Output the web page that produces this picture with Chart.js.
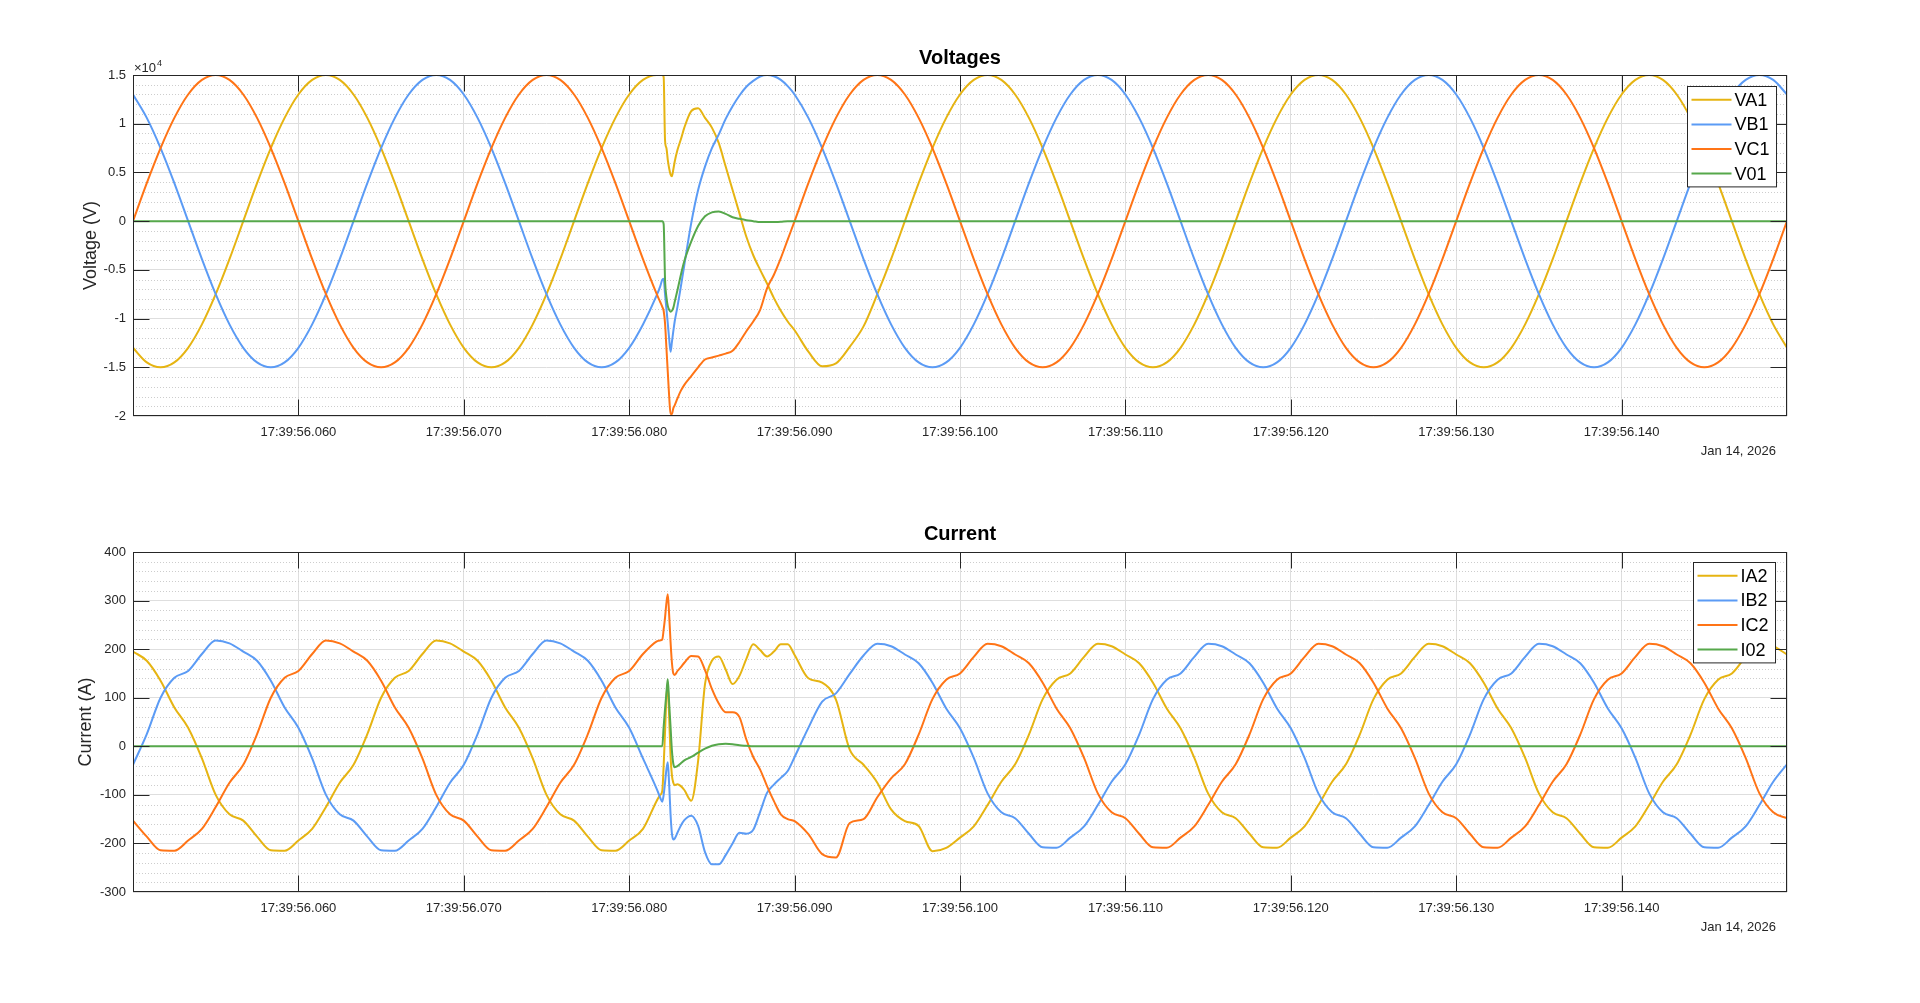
<!DOCTYPE html>
<html>
<head>
<meta charset="utf-8">
<script src="https://cdn.jsdelivr.net/npm/chart.js@4.4.1/dist/chart.umd.min.js"></script>
<style>
html,body{margin:0;padding:0;background:#fff;width:1920px;height:1003px;overflow:hidden}
canvas{position:absolute;left:0}
</style>
</head>
<body>
<canvas id="cV" width="1920" height="480" style="top:0"></canvas>
<canvas id="cI" width="1920" height="523" style="top:480px"></canvas>
<script>
// time in ms after 17:39:56.000 (Jan 14, 2026)
var t = [
  50, 50.833, 51.667, 52.5, 53.333, 54.167, 55, 55.833, 56.667, 57.5,
  58.333, 59.167, 60, 60.833, 61.667, 62.5, 63.333, 64.167, 65, 65.833,
  66.667, 67.5, 68.333, 69.167, 70, 70.833, 71.667, 72.5, 73.333, 74.167,
  75, 75.833, 76.667, 77.5, 78.333, 79.167, 80, 80.833,
  81.667, 81.875, 82, 82.083, 82.167, 82.25, 82.333, 82.417, 82.5, 82.583,
  82.667, 82.75, 82.917, 83.125, 83.333, 83.75, 84.167, 84.583, 85, 85.417,
  85.833, 86.25, 86.667, 87.083, 87.5, 87.917, 88.333, 88.75, 89.167, 89.583, 90,
  90.833, 91.667, 92.5, 93.333, 94.167, 95, 95.833, 96.667, 97.5, 98.333,
  99.167, 100, 100.833, 101.667, 102.5, 103.333, 104.167, 105, 105.833, 106.667,
  107.5, 108.333, 109.167, 110, 110.833, 111.667, 112.5, 113.333, 114.167, 115,
  115.833, 116.667, 117.5, 118.333, 119.167, 120, 120.833, 121.667, 122.5, 123.333,
  124.167, 125, 125.833, 126.667, 127.5, 128.333, 129.167, 130, 130.833, 131.667,
  132.5, 133.333, 134.167, 135, 135.833, 136.667, 137.5, 138.333, 139.167, 140,
  140.833, 141.667, 142.5, 143.333, 144.167, 145, 145.833, 146.667, 147.5, 148.333,
  149.167, 150
];

// voltages (V)
var VA1 = [
  -13000, -14500, -15000, -14500, -13000, -10600, -7500, -3900, 0, 3900,
  7500, 10600, 13000, 14500, 15000, 14500, 13000, 10600, 7500, 3900,
  0, -3900, -7500, -10600, -13000, -14500, -15000, -14500, -13000, -10600,
  -7500, -3900, 0, 3900, 7500, 10600, 13000, 14500,
  15000, 15000, 15000, 14800, 8300, 7500, 6300, 5400, 4800, 4600,
  5300, 6100, 7300, 8400, 9600, 11300, 11600, 10600, 9600, 8000,
  5600, 3200, 800, -1600, -3500, -5000, -6400, -7900, -9200, -10300, -11200,
  -13400, -14900, -14600, -12900, -10800, -7500, -3900, 0, 3900, 7500,
  10600, 13000, 14500, 15000, 14500, 13000, 10600, 7500, 3900, 0,
  -3900, -7500, -10600, -13000, -14500, -15000, -14500, -13000, -10600, -7500,
  -3900, 0, 3900, 7500, 10600, 13000, 14500, 15000, 14500, 13000,
  10600, 7500, 3900, 0, -3900, -7500, -10600, -13000, -14500, -15000,
  -14500, -13000, -10600, -7500, -3900, 0, 3900, 7500, 10600, 13000,
  14500, 15000, 14500, 13000, 10600, 7500, 3900, 0, -3900, -7500,
  -10600, -13000
];
var VB1 = [
  13000, 10600, 7500, 3900, 0, -3900, -7500, -10600, -13000, -14500,
  -15000, -14500, -13000, -10600, -7500, -3900, 0, 3900, 7500, 10600,
  13000, 14500, 15000, 14500, 13000, 10600, 7500, 3900, 0, -3900,
  -7500, -10600, -13000, -14500, -15000, -14500, -13000, -10600,
  -7600, -6700, -6000, -5900, -7500, -9000, -10500, -12100, -13400, -12400,
  -11300, -10300, -8800, -6700, -4500, -200, 3200, 5600, 7500, 8900,
  10500, 11800, 12900, 13800, 14400, 14850, 15000, 14870, 14500, 13860, 13000,
  10600, 7500, 3900, 0, -3900, -7500, -10600, -13000, -14500, -15000,
  -14500, -13000, -10600, -7500, -3900, 0, 3900, 7500, 10600, 13000,
  14500, 15000, 14500, 13000, 10600, 7500, 3900, 0, -3900, -7500,
  -10600, -13000, -14500, -15000, -14500, -13000, -10600, -7500, -3900, 0,
  3900, 7500, 10600, 13000, 14500, 15000, 14500, 13000, 10600, 7500,
  3900, 0, -3900, -7500, -10600, -13000, -14500, -15000, -14500, -13000,
  -10600, -7500, -3900, 0, 3900, 7500, 10600, 13000, 14500, 15000,
  14500, 13000
];
var VC1 = [
  0, 3900, 7500, 10600, 13000, 14500, 15000, 14500, 13000, 10600,
  7500, 3900, 0, -3900, -7500, -10600, -13000, -14500, -15000, -14500,
  -13000, -10600, -7500, -3900, 0, 3900, 7500, 10600, 13000, 14500,
  15000, 14500, 13000, 10600, 7500, 3900, 0, -3900,
  -7500, -8300, -8800, -9200, -10500, -13000, -15500, -18000, -19800, -19800,
  -19200, -18900, -18200, -17400, -16800, -15900, -15000, -14200, -14000, -13800,
  -13600, -13300, -12400, -11300, -10300, -9100, -6900, -5500, -3800, -1900, 0,
  3900, 7500, 10600, 13000, 14500, 15000, 14500, 13000, 10600, 7500,
  3900, 0, -3900, -7500, -10600, -13000, -14500, -15000, -14500, -13000,
  -10600, -7500, -3900, 0, 3900, 7500, 10600, 13000, 14500, 15000,
  14500, 13000, 10600, 7500, 3900, 0, -3900, -7500, -10600, -13000,
  -14500, -15000, -14500, -13000, -10600, -7500, -3900, 0, 3900, 7500,
  10600, 13000, 14500, 15000, 14500, 13000, 10600, 7500, 3900, 0,
  -3900, -7500, -10600, -13000, -14500, -15000, -14500, -13000, -10600, -7500,
  -3900, 0
];
var V01 = [
  0, 0, 0, 0, 0, 0, 0, 0, 0, 0,
  0, 0, 0, 0, 0, 0, 0, 0, 0, 0,
  0, 0, 0, 0, 0, 0, 0, 0, 0, 0,
  0, 0, 0, 0, 0, 0, 0, 0,
  0, 0, 0, -300, -6000, -7800, -8700, -9100, -9300, -9200,
  -8900, -8300, -7100, -5500, -4100, -2100, -500, 500, 900, 1000,
  750, 400, 240, 100, 0, -100, -100, -80, -50, 0, 0,
  0, 0, 0, 0, 0, 0, 0, 0, 0, 0,
  0, 0, 0, 0, 0, 0, 0, 0, 0, 0,
  0, 0, 0, 0, 0, 0, 0, 0, 0, 0,
  0, 0, 0, 0, 0, 0, 0, 0, 0, 0,
  0, 0, 0, 0, 0, 0, 0, 0, 0, 0,
  0, 0, 0, 0, 0, 0, 0, 0, 0, 0,
  0, 0, 0, 0, 0, 0, 0, 0, 0, 0,
  0, 0
];

// currents (A)
var IA2 = [
  195, 176, 135, 80, 38, -25, -100, -140, -153, -186,
  -214, -215, -194, -170, -125, -75, -38, 25, 100, 141,
  155, 190, 218, 212, 195, 176, 135, 80, 38, -25,
  -100, -140, -153, -186, -214, -215, -194, -170,
  -112, -100, -92, -40, 30, 100, 125, 60, -20, -60,
  -75, -80, -78, -82, -90, -112, -30, 128, 176, 185,
  158, 128, 145, 180, 210, 198, 185, 195, 210, 210, 188,
  140, 131, 96, -7, -38, -75, -130, -154, -164, -216,
  -209, -188, -165, -121, -73, -37, 24, 97, 137, 150,
  184, 211, 206, 189, 171, 131, 78, 37, -24, -97,
  -136, -148, -180, -208, -209, -188, -165, -121, -73, -37,
  24, 97, 137, 150, 184, 211, 206, 189, 171, 131,
  78, 37, -24, -97, -136, -148, -180, -208, -209, -188,
  -165, -121, -73, -37, 24, 97, 137, 150, 184, 211,
  206, 189
];
var IB2 = [
  -38, 25, 100, 141, 155, 190, 218, 212, 195, 176,
  135, 80, 38, -25, -100, -140, -153, -186, -214, -215,
  -194, -170, -125, -75, -38, 25, 100, 141, 155, 190,
  218, 212, 195, 176, 135, 80, 38, -25,
  -88, -106, -114, -100, -75, -48, -33, -80, -140, -180,
  -192, -190, -178, -163, -152, -143, -164, -218, -243, -243,
  -224, -200, -178, -180, -172, -135, -96, -79, -65, -51, -22,
  38, 92, 109, 149, 187, 211, 206, 189, 171, 131,
  78, 37, -24, -97, -136, -148, -180, -208, -209, -188,
  -165, -121, -73, -37, 24, 97, 137, 150, 184, 211,
  206, 189, 171, 131, 78, 37, -24, -97, -136, -148,
  -180, -208, -209, -188, -165, -121, -73, -37, 24, 97,
  137, 150, 184, 211, 206, 189, 171, 131, 78, 37,
  -24, -97, -136, -148, -180, -208, -209, -188, -165, -121,
  -73, -37
];
var IC2 = [
  -153, -186, -214, -215, -194, -170, -125, -75, -38, 25,
  100, 141, 155, 190, 218, 212, 195, 176, 135, 80,
  38, -25, -100, -140, -153, -186, -214, -215, -194, -170,
  -125, -75, -38, 25, 100, 141, 155, 190,
  216, 218, 220, 240, 265, 295, 313, 270, 215, 172,
  150, 147, 155, 163, 172, 186, 185, 157, 118, 88,
  70, 70, 60, 14, -22, -48, -82, -113, -140, -150, -154,
  -181, -222, -229, -158, -150, -105, -66, -37, 24, 97,
  137, 150, 184, 211, 206, 189, 171, 131, 78, 37,
  -24, -97, -136, -148, -180, -208, -209, -188, -165, -121,
  -73, -37, 24, 97, 137, 150, 184, 211, 206, 189,
  171, 131, 78, 37, -24, -97, -136, -148, -180, -208,
  -209, -188, -165, -121, -73, -37, 24, 97, 137, 150,
  184, 211, 206, 189, 171, 131, 78, 37, -24, -97,
  -136, -148
];
var I02 = [
  0, 0, 0, 0, 0, 0, 0, 0, 0, 0,
  0, 0, 0, 0, 0, 0, 0, 0, 0, 0,
  0, 0, 0, 0, 0, 0, 0, 0, 0, 0,
  0, 0, 0, 0, 0, 0, 0, 0,
  0, 0, 0, 40, 77, 110, 138, 88, 40, -9,
  -36, -43, -41, -35, -29, -22, -13, -5, 1, 4,
  5, 4, 2, 1, 0, 0, 0, 0, 0, 0, 0,
  0, 0, 0, 0, 0, 0, 0, 0, 0, 0,
  0, 0, 0, 0, 0, 0, 0, 0, 0, 0,
  0, 0, 0, 0, 0, 0, 0, 0, 0, 0,
  0, 0, 0, 0, 0, 0, 0, 0, 0, 0,
  0, 0, 0, 0, 0, 0, 0, 0, 0, 0,
  0, 0, 0, 0, 0, 0, 0, 0, 0, 0,
  0, 0, 0, 0, 0, 0, 0, 0, 0, 0,
  0, 0
];

var DATE_LABEL = 'Jan 14, 2026';
var colors = {A:'#E6B412', B:'#5B9BF5', C:'#FF7416', N:'#56A84B'};

var FONT = '"Liberation Sans", Arial, Helvetica, sans-serif';
var INK = '#262626';

function pts(ys){ return t.map(function(x,i){ return {x:x, y:ys[i]}; }); }

// MATLAB-like axes decorations: minor grid, box, inward ticks, legend, date, exponent
var matlabAxes = {
  id: 'matlabAxes',
  beforeDatasetsDraw: function(ch, a, o){
    var ca = ch.chartArea, y = ch.scales.y, ctx = ch.ctx;
    ctx.save();
    ctx.strokeStyle = '#cdcdcd'; ctx.lineWidth = 1; ctx.setLineDash([1,2]);
    for (var v = y.min; v <= y.max; v += o.minor){
      if (Math.abs(v % o.major) < 1e-9) continue;
      var py = Math.round(y.getPixelForValue(v)) + 0.5;
      ctx.beginPath(); ctx.moveTo(ca.left, py); ctx.lineTo(ca.right, py); ctx.stroke();
    }
    ctx.restore();
  },
  afterDraw: function(ch, a, o){
    var ca = ch.chartArea, ctx = ch.ctx, sx = ch.scales.x, sy = ch.scales.y, TL = 16;
    ctx.save();
    ctx.strokeStyle = INK; ctx.lineWidth = 1;
    var L = Math.round(ca.left)+0.5, R = Math.round(ca.right)-0.5, T = Math.round(ca.top)+0.5, B = Math.round(ca.bottom)-0.5;
    ctx.beginPath();
    sx.ticks.forEach(function(tk){
      if (tk.value <= sx.min || tk.value >= sx.max) return;
      var px = Math.round(sx.getPixelForValue(tk.value)) + 0.5;
      ctx.moveTo(px, B); ctx.lineTo(px, B - TL);
      ctx.moveTo(px, T); ctx.lineTo(px, T + TL);
    });
    sy.ticks.forEach(function(tk){
      if (tk.value <= sy.min || tk.value >= sy.max) return;
      var py = Math.round(sy.getPixelForValue(tk.value)) + 0.5;
      ctx.moveTo(L, py); ctx.lineTo(L + TL, py);
      ctx.moveTo(R, py); ctx.lineTo(R - TL, py);
    });
    ctx.stroke();
    ctx.strokeRect(L, T, R - L, B - T);

    // legend
    var ds = ch.data.datasets;
    ctx.font = '18px ' + FONT;
    var tw = 0;
    ds.forEach(function(d){ tw = Math.max(tw, ctx.measureText(d.label).width); });
    var w = 4 + 40 + 3 + tw + 7, rowH = 24.6, h = 26.6 + rowH*(ds.length-1);
    var x0 = Math.round(ca.right - o.legRight - w) + 0.5, y0 = Math.round(ca.top + o.legTop) + 0.5;
    ctx.fillStyle = '#fff'; ctx.fillRect(x0, y0, w, h);
    ctx.strokeStyle = INK; ctx.strokeRect(x0, y0, w, h);
    ctx.textBaseline = 'middle'; ctx.textAlign = 'left';
    ds.forEach(function(d, i){
      var cy = y0 + 13.3 + i*rowH;
      ctx.strokeStyle = d.borderColor; ctx.lineWidth = 2;
      ctx.beginPath(); ctx.moveTo(x0 + 4, cy); ctx.lineTo(x0 + 44, cy); ctx.stroke();
      ctx.fillStyle = '#000'; ctx.fillText(d.label, x0 + 47, cy + 1);
    });

    // date under the time axis
    ctx.font = '13px ' + FONT; ctx.fillStyle = INK;
    ctx.textAlign = 'right';
    ctx.fillText(DATE_LABEL, ca.right - 11, o.dateY);

    // exponent
    if (o.exponent){
      ctx.textAlign = 'left'; ctx.textBaseline = 'alphabetic';
      ctx.font = '13px ' + FONT;
      ctx.fillText('\u00d710', ca.left + 1, ca.top - 3);
      var ew = ctx.measureText('\u00d710').width;
      ctx.font = '9px ' + FONT;
      ctx.fillText(o.exponent, ca.left + 2 + ew, ca.top - 9);
    }
    ctx.restore();
  }
};

function mk(id, title, titlePad, yTitle, yTitleX, yMin, yMax, yStep, yFmt, xH, ds, po){
  var cv = document.getElementById(id);
  return new Chart(cv.getContext('2d'), {
    type: 'line',
    data: {datasets: ds},
    options: {
      responsive: false, animation: false, events: [],
      layout: {padding: {left: 0, right: 133, top: 0, bottom: 0}},
      elements: {point: {radius: 0}, line: {borderWidth: 2, cubicInterpolationMode: 'monotone'}},
      scales: {
        x: {
          type: 'linear', min: 50, max: 150,
          afterFit: function(s){ s.height = xH; },
          grid: {color: '#dedede', drawTicks: false},
          border: {display: false},
          ticks: {
            stepSize: 10, autoSkip: false, maxRotation: 0, padding: 9,
            color: INK, font: {family: FONT, size: 13},
            callback: function(v){ return (v <= 50 || v >= 150) ? '' : '17:39:56.' + String(Math.round(v)).padStart(3, '0'); }
          }
        },
        y: {
          min: yMin, max: yMax,
          afterFit: function(s){ s.width = 133; },
          grid: {color: '#dedede', drawTicks: false},
          border: {display: false},
          ticks: {stepSize: yStep, padding: 7, color: INK, font: {family: FONT, size: 13}, callback: yFmt},
          title: {display: true, text: yTitle, color: INK, font: {family: FONT, size: 18},
                  padding: {top: yTitleX - 10.8, bottom: 0}}
        }
      },
      plugins: {
        legend: {display: false},
        tooltip: {enabled: false},
        title: {display: true, fullSize: false, text: title, color: '#000',
                font: {family: FONT, size: 20, weight: 'bold'}, padding: titlePad},
        matlabAxes: po
      }
    },
    plugins: [matlabAxes]
  });
}

function line(label, ys, color, order){
  return {label: label, data: pts(ys), borderColor: color, backgroundColor: color, fill: false, order: order};
}

mk('cV', 'Voltages', {top: 46, bottom: 5}, 'Voltage (V)', 91, -20000, 15000, 5000,
  function(v){ return String(v / 1e4); }, 64,
  [line('VA1', VA1, colors.A, 3), line('VB1', VB1, colors.B, 2), line('VC1', VC1, colors.C, 1), line('V01', V01, colors.N, 0)],
  {minor: 1000, major: 5000, legTop: 11, legRight: 11, dateY: 451, exponent: '4'});

mk('cI', 'Current', {top: 42, bottom: 6}, 'Current (A)', 86, -300, 400, 100,
  function(v){ return String(v); }, 111,
  [line('IA2', IA2, colors.A, 3), line('IB2', IB2, colors.B, 2), line('IC2', IC2, colors.C, 1), line('I02', I02, colors.N, 0)],
  {minor: 20, major: 100, legTop: 9.5, legRight: 11.5, dateY: 447, exponent: null});
</script>
</body>
</html>
